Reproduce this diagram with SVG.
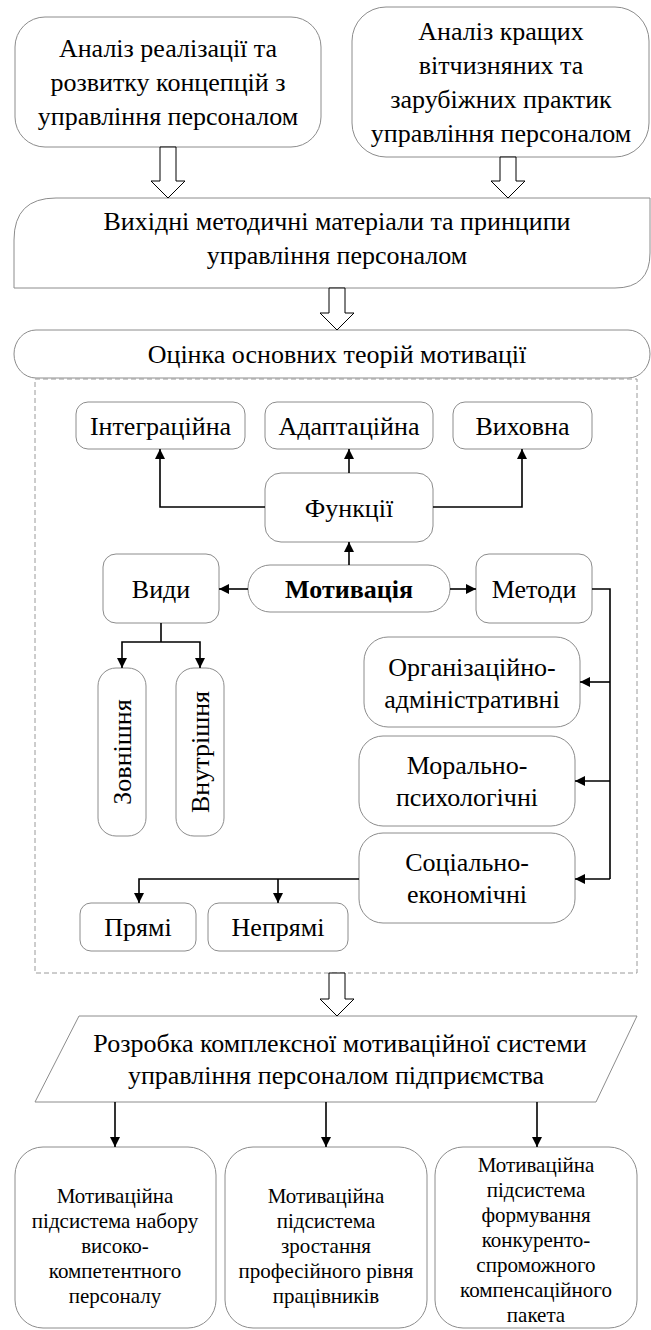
<svg xmlns="http://www.w3.org/2000/svg" width="651" height="1330" viewBox="0 0 651 1330">
<defs>
<style>
.box{fill:#fff;stroke:#8c8c8c;stroke-width:1}
.blk{fill:#fff;stroke:#000;stroke-width:1}
.t{font-family:"Liberation Serif","Times New Roman",serif;font-size:26px;fill:#000;text-anchor:middle}
.s{font-family:"Liberation Serif","Times New Roman",serif;font-size:21px;fill:#000;text-anchor:middle}
.b{font-weight:bold}
.ln{fill:none;stroke:#000;stroke-width:1.6}
.dash{fill:none;stroke:#9a9a9a;stroke-width:1;stroke-dasharray:5 3}
</style>
<marker id="ah" viewBox="0 0 10 10" refX="10" refY="5" markerWidth="10" markerHeight="10" markerUnits="userSpaceOnUse" orient="auto">
<path d="M0,0 L10,5 L0,10 Z" fill="#000"/>
</marker>
</defs>

<g id="n-analiz1">
<rect class="box" x="15" y="17" width="306" height="130" rx="30"/>
<text class="t" x="168" y="57">Аналіз реалізації та</text>
<text class="t" x="168" y="91">розвитку концепцій з</text>
<text class="t" x="168" y="125">управління персоналом</text>
</g>
<g id="n-analiz2">
<rect class="box" x="352" y="7" width="297" height="150" rx="34"/>
<text class="t" x="501" y="40">Аналіз кращих</text>
<text class="t" x="501" y="74">вітчизняних та</text>
<text class="t" x="501" y="108">зарубіжних практик</text>
<text class="t" x="501" y="142">управління персоналом</text>
</g>
<g id="n-vykhidni">
<path class="box" d="M14,288 L14,240 Q14,198 56,198 L650,198 L650,253 Q650,288 615,288 Z"/>
<text class="t" x="337" y="230">Вихідні методичні матеріали та принципи</text>
<text class="t" x="337" y="264">управління персоналом</text>
</g>
<g id="n-otsinka">
<rect class="box" x="14" y="330" width="636" height="48" rx="22" ry="24"/>
<text class="t" x="337" y="363">Оцінка основних теорій мотивації</text>
</g>
<rect id="group-motivation" class="dash" x="35" y="379" width="602" height="594"/>

<g id="n-integr">
<rect class="box" x="76" y="402" width="169" height="47" rx="12"/>
<text class="t" x="160.5" y="435">Інтеграційна</text>
</g>
<g id="n-adapt">
<rect class="box" x="265" y="402" width="168" height="47" rx="12"/>
<text class="t" x="349" y="435">Адаптаційна</text>
</g>
<g id="n-vykhovna">
<rect class="box" x="453" y="402" width="139" height="47" rx="12"/>
<text class="t" x="522.5" y="435">Виховна</text>
</g>
<g id="n-funktsii">
<rect class="box" x="265" y="473" width="168" height="69" rx="16"/>
<text class="t" x="349" y="517">Функції</text>
</g>
<g id="n-vydy">
<rect class="box" x="103" y="554" width="116" height="69" rx="13"/>
<text class="t" x="161" y="598">Види</text>
</g>
<g id="n-motyvatsiia">
<rect class="box" x="248" y="565" width="202" height="47" rx="22" ry="23"/>
<text class="t b" x="349" y="598">Мотивація</text>
</g>
<g id="n-metody">
<rect class="box" x="476" y="554" width="116" height="69" rx="13"/>
<text class="t" x="534" y="598">Методи</text>
</g>
<g id="n-zovnishnia">
<rect class="box" x="98" y="668" width="48" height="168" rx="18"/>
<text class="t" transform="translate(131,752) rotate(-90)" x="0" y="0">Зовнішня</text>
</g>
<g id="n-vnutrishnia">
<rect class="box" x="176" y="668" width="48" height="168" rx="18"/>
<text class="t" transform="translate(209,752) rotate(-90)" x="0" y="0">Внутрішня</text>
</g>
<g id="n-orgadm">
<rect class="box" x="364" y="637" width="216" height="90" rx="24"/>
<text class="t" x="472" y="676">Організаційно-</text>
<text class="t" x="472" y="708">адміністративні</text>
</g>
<g id="n-moral">
<rect class="box" x="359" y="736" width="216" height="90" rx="24"/>
<text class="t" x="467" y="774">Морально-</text>
<text class="t" x="467" y="806">психологічні</text>
</g>
<g id="n-social">
<rect class="box" x="359" y="833" width="216" height="90" rx="24"/>
<text class="t" x="467" y="871">Соціально-</text>
<text class="t" x="467" y="903">економічні</text>
</g>
<g id="n-priami">
<rect class="box" x="80" y="903" width="116" height="48" rx="11"/>
<text class="t" x="138" y="936">Прямі</text>
</g>
<g id="n-nepriami">
<rect class="box" x="208" y="903" width="140" height="48" rx="11"/>
<text class="t" x="278" y="936">Непрямі</text>
</g>

<g id="n-rozrobka">
<path class="box" d="M79,1016 L637,1016 L596,1102 L35,1102 Z"/>
<text class="t" x="340" y="1052">Розробка комплексної мотиваційної системи</text>
<text class="t" x="336" y="1084">управління персоналом підприємства</text>
</g>
<g id="n-sub1">
<rect class="box" x="15" y="1147" width="201" height="181" rx="28"/>
<text class="s" x="115" y="1203">Мотиваційна</text>
<text class="s" x="115" y="1228">підсистема набору</text>
<text class="s" x="115" y="1253">високо-</text>
<text class="s" x="115" y="1278">компетентного</text>
<text class="s" x="115" y="1303">персоналу</text>
</g>
<g id="n-sub2">
<rect class="box" x="225" y="1147" width="202" height="181" rx="28"/>
<text class="s" x="326" y="1203">Мотиваційна</text>
<text class="s" x="326" y="1228">підсистема</text>
<text class="s" x="326" y="1253">зростання</text>
<text class="s" x="326" y="1278">професійного рівня</text>
<text class="s" x="326" y="1303">працівників</text>
</g>
<g id="n-sub3">
<rect class="box" x="435" y="1147" width="202" height="181" rx="28"/>
<text class="s" x="536" y="1172">Мотиваційна</text>
<text class="s" x="536" y="1197">підсистема</text>
<text class="s" x="536" y="1222">формування</text>
<text class="s" x="536" y="1247">конкуренто-</text>
<text class="s" x="536" y="1272">спроможного</text>
<text class="s" x="536" y="1297">компенсаційного</text>
<text class="s" x="536" y="1322">пакета</text>
</g>

<g id="connectors">
<path class="blk" d="M160,147 L176,147 L176,181 L185,181 L168,198 L151,181 L160,181 Z"/>
<path class="blk" d="M500,157 L516,157 L516,181 L525,181 L508,198 L491,181 L500,181 Z"/>
<path class="blk" d="M329,288 L345,288 L345,313 L354,313 L337,330 L320,313 L329,313 Z"/>
<path class="blk" d="M329,973 L345,973 L345,999 L354,999 L337,1016 L320,999 L329,999 Z"/>

<path class="ln" d="M265,507 L160,507 L160,449" marker-end="url(#ah)"/>
<path class="ln" d="M433,507 L522,507 L522,449" marker-end="url(#ah)"/>
<path class="ln" d="M349,473 L349,449" marker-end="url(#ah)"/>
<path class="ln" d="M349,565 L349,542" marker-end="url(#ah)"/>
<path class="ln" d="M248,589 L219,589" marker-end="url(#ah)"/>
<path class="ln" d="M450,589 L476,589" marker-end="url(#ah)"/>

<path class="ln" d="M161,623 L161,642"/>
<path class="ln" d="M161,642 L122,642 L122,668" marker-end="url(#ah)"/>
<path class="ln" d="M161,642 L200,642 L200,668" marker-end="url(#ah)"/>

<path class="ln" d="M592,589 L610,589 L610,879"/>
<path class="ln" d="M610,682 L580,682" marker-end="url(#ah)"/>
<path class="ln" d="M610,781 L575,781" marker-end="url(#ah)"/>
<path class="ln" d="M610,879 L575,879" marker-end="url(#ah)"/>

<path class="ln" d="M359,879 L139,879 L139,903" marker-end="url(#ah)"/>
<path class="ln" d="M278,879 L278,903" marker-end="url(#ah)"/>

<path class="ln" d="M115,1102 L115,1147" marker-end="url(#ah)"/>
<path class="ln" d="M326,1102 L326,1147" marker-end="url(#ah)"/>
<path class="ln" d="M537,1102 L537,1147" marker-end="url(#ah)"/>
</g>
</svg>
